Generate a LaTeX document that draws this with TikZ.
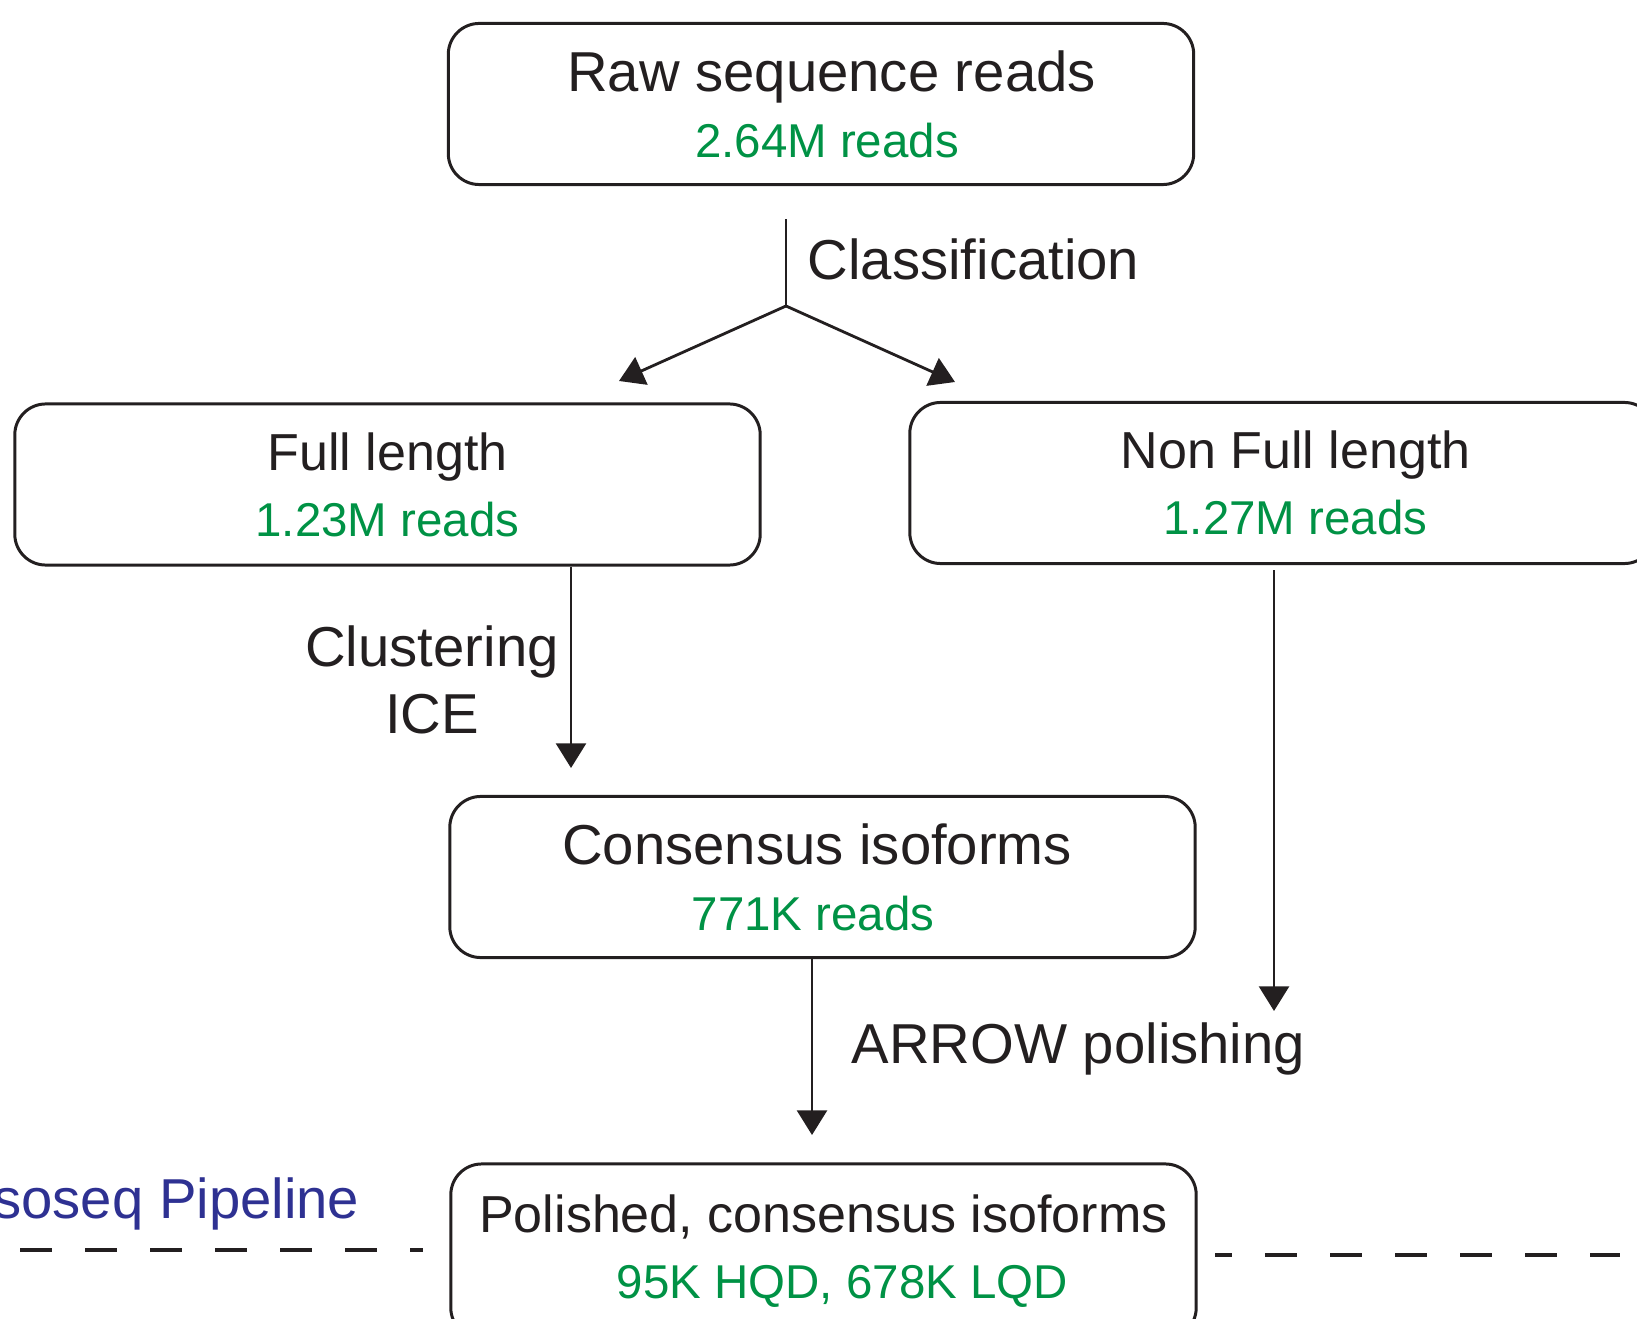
\documentclass[tikz,border=0pt]{standalone}
\usepackage{fontspec}
\setmainfont{Liberation Sans}
\usetikzlibrary{arrows.meta,calc}

\definecolor{inkblack}{RGB}{35,31,32}
\definecolor{countgreen}{RGB}{0,146,69}
\definecolor{pipeblue}{RGB}{46,49,146}

\tikzset{
  stagebox/.style={draw=inkblack, line width=0.85pt, rounded corners=8.8pt,
    minimum width=7.45cm, minimum height=1.61cm, inner sep=0pt,
    align=center, text=inkblack, font=\fontsize{16}{18.8}\selectfont},
  steplabel/.style={text=inkblack, font=\fontsize{16}{19}\selectfont, inner sep=0pt},
  flow/.style={draw=inkblack, line width=0.8pt, -{Triangle[width=8.5pt,length=7pt]}},
  sepline/.style={draw=inkblack, line width=1.1pt, dash pattern=on 9.1pt off 9.4pt}
}
\newcommand{\readcount}[1]{{\color{countgreen}\fontsize{13.5}{18.8}\selectfont #1}}
\newcommand{\smalltitle}[1]{{\fontsize{14.8}{18.8}\selectfont #1}}

\begin{document}
\begin{tikzpicture}[x=0.01cm, y=-0.01cm]

	\useasboundingbox (0,0) rectangle (1637,1319);
	\clip (0,0) rectangle (1637,1319);

	% stages
	\node[stagebox] (raw) at (821,104)
		{\hspace*{6pt}Raw sequence reads\\\hspace*{3.4pt}\readcount{2.64M reads}};
	\node[stagebox] (full) at (387.5,484.5)
		{\smalltitle{Full length}\\\readcount{1.23M reads}};
	\node[stagebox] (nonfull) at (1282.5,483)
		{\hspace*{7.4pt}\smalltitle{Non Full length}\\\hspace*{7.4pt}\readcount{1.27M reads}};
	\node[stagebox] (cons) at (822.5,877)
		{\hspace*{-3pt}Consensus isoforms\\\hspace*{-5.3pt}\readcount{771K reads}};
	% bottom edge runs off the page
	\node[stagebox, minimum height=1.746cm] (polished) at (823.5,1251.3)
		{\smalltitle{Polished, consensus isoforms}\\\hspace*{10.8pt}\readcount{95K HQD, 678K LQD}};

	% branch point and arrow ends
	\coordinate (split) at (786,306);
	\coordinate (flTip) at (619,381);
	\coordinate (nflTip) at (955,382);
	\coordinate (cluTip) at (571,768);
	\coordinate (nfTip) at (1274,1011);
	\coordinate (polTip) at (812,1135);

	% classification
	\draw[flow,-] ($(raw.south -| split)+(0,33)$) -- (split);
	\draw[flow] (split) -- (flTip);
	\draw[flow] (split) -- (nflTip);
	\node[steplabel, anchor=base west] (classify) at (807,280) {Classification};

	% clustering
	\draw[flow] (full.south -| cluTip) -- (cluTip);
	\node[steplabel, align=center] (cluster) at (432,680) {Clustering\\ICE};

	% polishing
	\draw[flow] ($(nonfull.south -| nfTip)+(0,5)$) -- (nfTip);
	\draw[flow] (cons.south -| polTip) -- (polTip);
	\node[steplabel, anchor=base west] (polish) at (851,1063) {ARROW polishing};

	% pipeline boundary
	\node[text=pipeblue, font=\fontsize{16}{19}\selectfont, inner sep=0pt, anchor=base east] (pipe) at (360,1218) {soseq Pipeline};
	\draw[sepline] (20,1250) -- (423,1250);
	\draw[sepline, dash phase=4.3pt] (1215,1255) -- (1620,1255);

\end{tikzpicture}
\end{document}
